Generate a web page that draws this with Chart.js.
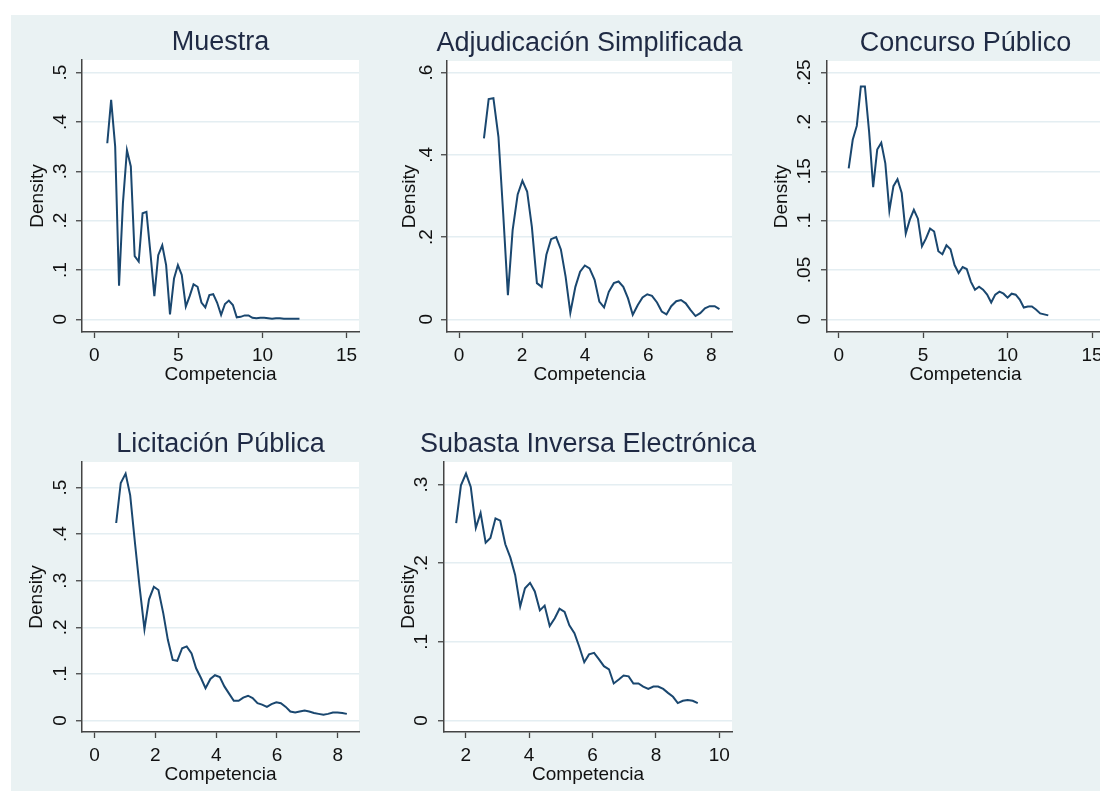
<!DOCTYPE html>
<html>
<head>
<meta charset="utf-8">
<script src="https://cdn.jsdelivr.net/npm/chart.js@4.4.0/dist/chart.umd.min.js"></script>
<style>
    html, body { margin: 0; padding: 0; width: 1100px; height: 791px; overflow: hidden; background: #fff; }
    #fondo { position: absolute; left: 11px; top: 15px; width: 1089px; height: 776px; background: #eaf2f3; overflow: hidden; }
    .panel { position: absolute; overflow: hidden; }
    .panel canvas { position: absolute; left: 0; top: 0; }
</style>
</head>
<body>
<div id="fondo">
    <div class="panel" id="p1"><canvas id="g1"></canvas></div>
    <div class="panel" id="p2"><canvas id="g2"></canvas></div>
    <div class="panel" id="p3"><canvas id="g3"></canvas></div>
    <div class="panel" id="p4"><canvas id="g4"></canvas></div>
    <div class="panel" id="p5"><canvas id="g5"></canvas></div>
</div>
<script>
const titulos = ['Muestra', 'Adjudicación Simplificada', 'Concurso Público', 'Licitación Pública', 'Subasta Inversa Electrónica'];

const muestraX = [0.77, 1.00, 1.24, 1.47, 1.70, 1.94, 2.17, 2.40, 2.64, 2.87, 3.10, 3.34, 3.57, 3.80, 4.04, 4.27, 4.50, 4.74, 4.97, 5.20,
    5.44, 5.67, 5.90, 6.14, 6.37, 6.60, 6.84, 7.07, 7.30, 7.54, 7.77, 8.00, 8.24, 8.47, 8.70, 8.94, 9.17, 9.40, 9.64, 9.87,
    10.10, 10.34, 10.57, 10.80, 11.04, 11.27, 11.50, 11.74, 11.97, 12.20];
const muestraY = [0.357, 0.445, 0.350, 0.068, 0.235, 0.343, 0.310, 0.128, 0.117, 0.215, 0.218, 0.133, 0.047, 0.130, 0.150, 0.110, 0.010, 0.083, 0.110, 0.090,
    0.026, 0.047, 0.071, 0.066, 0.034, 0.024, 0.049, 0.051, 0.034, 0.009, 0.031, 0.038, 0.029, 0.004, 0.005, 0.008, 0.008, 0.003, 0.002, 0.003,
    0.003, 0.002, 0.001, 0.002, 0.002, 0.001, 0.001, 0.001, 0.001, 0.001];

const adjudicacionX = [0.79, 0.94, 1.09, 1.25, 1.40, 1.55, 1.70, 1.86, 2.01, 2.16, 2.31, 2.47, 2.62, 2.77, 2.92, 3.08, 3.23, 3.38, 3.53, 3.69,
    3.84, 3.99, 4.14, 4.30, 4.45, 4.60, 4.75, 4.91, 5.06, 5.21, 5.36, 5.51, 5.67, 5.82, 5.97, 6.12, 6.28, 6.43, 6.58, 6.73,
    6.89, 7.04, 7.19, 7.34, 7.50, 7.65, 7.80, 7.95, 8.11, 8.26];
const adjudicacionY = [0.440, 0.536, 0.538, 0.444, 0.258, 0.059, 0.217, 0.304, 0.337, 0.311, 0.225, 0.088, 0.079, 0.157, 0.195, 0.200, 0.170, 0.104, 0.016, 0.079,
    0.116, 0.131, 0.124, 0.096, 0.043, 0.029, 0.067, 0.088, 0.092, 0.079, 0.051, 0.011, 0.035, 0.053, 0.061, 0.057, 0.041, 0.019, 0.012, 0.032,
    0.044, 0.047, 0.039, 0.023, 0.008, 0.015, 0.027, 0.032, 0.032, 0.025];

const concursoX = [0.59, 0.83, 1.07, 1.31, 1.55, 1.80, 2.04, 2.28, 2.52, 2.76, 3.00, 3.24, 3.48, 3.73, 3.97, 4.21, 4.45, 4.69, 4.93, 5.17,
    5.41, 5.65, 5.90, 6.14, 6.38, 6.62, 6.86, 7.10, 7.34, 7.58, 7.83, 8.07, 8.31, 8.55, 8.79, 9.03, 9.27, 9.52, 9.76, 10.00,
    10.24, 10.48, 10.72, 10.96, 11.20, 11.44, 11.68, 11.93, 12.17, 12.41];
const concursoY = [0.153, 0.182, 0.196, 0.236, 0.236, 0.190, 0.134, 0.172, 0.179, 0.158, 0.110, 0.135, 0.142, 0.128, 0.087, 0.101, 0.111, 0.102, 0.074, 0.082,
    0.092, 0.089, 0.069, 0.066, 0.075, 0.071, 0.055, 0.047, 0.053, 0.051, 0.038, 0.030, 0.033, 0.030, 0.025, 0.017, 0.025, 0.028, 0.026, 0.022,
    0.026, 0.025, 0.020, 0.012, 0.013, 0.013, 0.010, 0.006, 0.005, 0.004];

const licitacionX = [0.71, 0.86, 1.02, 1.17, 1.33, 1.48, 1.64, 1.79, 1.95, 2.10, 2.26, 2.41, 2.57, 2.72, 2.88, 3.03, 3.19, 3.34, 3.50, 3.65,
    3.81, 3.96, 4.12, 4.27, 4.43, 4.58, 4.74, 4.89, 5.05, 5.20, 5.36, 5.51, 5.67, 5.82, 5.98, 6.13, 6.29, 6.44, 6.60, 6.75,
    6.91, 7.06, 7.22, 7.37, 7.53, 7.68, 7.84, 7.99, 8.15, 8.30];
const licitacionY = [0.424, 0.510, 0.530, 0.484, 0.380, 0.287, 0.196, 0.260, 0.287, 0.280, 0.230, 0.173, 0.130, 0.128, 0.155, 0.159, 0.144, 0.112, 0.091, 0.069,
    0.089, 0.097, 0.093, 0.073, 0.057, 0.042, 0.042, 0.049, 0.053, 0.048, 0.037, 0.034, 0.029, 0.035, 0.039, 0.037, 0.029, 0.019, 0.017, 0.019,
    0.021, 0.019, 0.016, 0.014, 0.012, 0.014, 0.017, 0.017, 0.016, 0.014];

const subastaX = [1.70, 1.85, 2.01, 2.16, 2.32, 2.47, 2.63, 2.78, 2.94, 3.09, 3.25, 3.41, 3.56, 3.72, 3.87, 4.03, 4.18, 4.34, 4.49, 4.65,
    4.81, 4.96, 5.12, 5.27, 5.43, 5.58, 5.74, 5.89, 6.05, 6.20, 6.36, 6.52, 6.67, 6.83, 6.98, 7.14, 7.29, 7.45, 7.60, 7.76,
    7.92, 8.07, 8.23, 8.38, 8.54, 8.69, 8.85, 9.00, 9.16, 9.32];
const subastaY = [0.251, 0.299, 0.314, 0.297, 0.245, 0.264, 0.226, 0.232, 0.257, 0.254, 0.224, 0.207, 0.185, 0.145, 0.168, 0.175, 0.164, 0.140, 0.146, 0.120,
    0.130, 0.142, 0.138, 0.121, 0.111, 0.094, 0.074, 0.084, 0.086, 0.078, 0.069, 0.065, 0.047, 0.052, 0.057, 0.056, 0.047, 0.047, 0.043, 0.040,
    0.043, 0.043, 0.040, 0.035, 0.030, 0.022, 0.025, 0.026, 0.025, 0.022];

const ticksX15 = [0, 5, 10, 15];
const ticksX8 = [0, 2, 4, 6, 8];
const ticksX10 = [2, 4, 6, 8, 10];
const ticksY5 = [0, 0.1, 0.2, 0.3, 0.4, 0.5];
const ticksY6 = [0, 0.2, 0.4, 0.6];
const ticksY25 = [0, 0.05, 0.1, 0.15, 0.2, 0.25];
const ticksY3 = [0, 0.1, 0.2, 0.3];

// ancho del eje y, alto del eje x, alto del título
const EJE_Y = 72;
const EJE_X = 56;
const CAB = 37;
// origen del fondo dentro de la página
const FONDO_X = 11;
const FONDO_Y = 15;

const fondoBlanco = {
    id: 'fondoBlanco',
    beforeDraw(chart) {
        const a = chart.chartArea;
        chart.ctx.save();
        chart.ctx.fillStyle = '#ffffff';
        chart.ctx.fillRect(a.left, a.top, a.right - a.left, a.bottom - a.top);
        chart.ctx.restore();
    }
};

window.onload = function () {
    Chart.defaults.font.family = "'Liberation Sans', Arial, sans-serif";
    Chart.defaults.color = '#111';

    crearPanel('p1', 'g1', titulos[0], muestraX, muestraY, ticksX15, ticksY5,
        { left: 82, top: 60, w: 277, h: 272, xMin: -0.733, xMax: 15.74, yMin: -0.0257, yMax: 0.5257, padTitulo: 16, padTicks: 7 });
    crearPanel('p2', 'g2', titulos[1], adjudicacionX, adjudicacionY, ticksX8, ticksY6,
        { left: 447, top: 61, w: 285, h: 271, xMin: -0.382, xMax: 8.658, yMin: -0.0308, yMax: 0.6284, padTitulo: 23, padTicks: 6.4 });
    crearPanel('p3', 'g3', titulos[2], concursoX, concursoY, ticksX15, ticksY25,
        { left: 827, top: 61, w: 277, h: 271, xMin: -0.694, xMax: 15.71, yMin: -0.01284, yMax: 0.2618, padTitulo: 15.6, padTicks: 2.8 });
    crearPanel('p4', 'g4', titulos[3], licitacionX, licitacionY, ticksX8, ticksY5,
        { left: 82, top: 462, w: 277, h: 270, xMin: -0.415, xMax: 8.70, yMin: -0.0249, yMax: 0.555, padTitulo: 15, padTicks: 7 });
    crearPanel('p5', 'g5', titulos[4], subastaX, subastaY, ticksX10, ticksY3,
        { left: 444, top: 462, w: 288, h: 270, xMin: 1.316, xMax: 10.40, yMin: -0.01476, yMax: 0.3287, padTitulo: 25, padTicks: 8 });
};

function crearPanel(divId, id, titulo, xs, ys, ticksX, ticksY, caja) {
    const ancho = caja.w + 2 * EJE_Y;
    const alto = CAB + caja.h + EJE_X;
    const x0 = caja.left - EJE_Y - FONDO_X;
    const y0 = caja.top - CAB - FONDO_Y;

    // el contenedor recorta lo que pasa del borde derecho del fondo
    const div = document.getElementById(divId);
    div.style.left = x0 + 'px';
    div.style.top = y0 + 'px';
    div.style.width = Math.min(ancho, 1089 - x0) + 'px';
    div.style.height = alto + 'px';

    const canvas = document.getElementById(id);
    canvas.width = ancho;
    canvas.height = alto;
    canvas.style.width = ancho + 'px';
    canvas.style.height = alto + 'px';

    new Chart(canvas.getContext('2d'), {
        type: 'line',
        data: {
            datasets: [{
                data: xs.map((x, i) => ({ x: x, y: ys[i] })),
                borderColor: '#1a476f',
                borderWidth: 2,
                pointRadius: 0,
                fill: false,
                tension: 0
            }]
        },
        options: {
            responsive: false,
            animation: false,
            devicePixelRatio: 1,
            layout: { padding: 0 },
            plugins: {
                legend: { display: false },
                tooltip: { enabled: false },
                title: {
                    display: true,
                    text: titulo,
                    fullSize: true,
                    color: '#1f2a44',
                    font: { size: 27, weight: 'normal', lineHeight: 32 / 27 },
                    padding: { top: 4, bottom: 1 }
                }
            },
            scales: {
                x: {
                    type: 'linear',
                    min: caja.xMin,
                    max: caja.xMax,
                    afterBuildTicks: s => { s.ticks = ticksX.map(v => ({ value: v })); },
                    afterFit: s => { s.height = EJE_X; },
                    ticks: { font: { size: 19 }, padding: 6, maxRotation: 0, autoSkip: false },
                    grid: { drawOnChartArea: false, tickLength: 6, tickColor: '#444', tickWidth: 1.3 },
                    border: { display: true, color: '#444', width: 1.5 },
                    title: { display: true, text: 'Competencia', font: { size: 19 }, padding: { top: 0, bottom: 2 } }
                },
                y: {
                    type: 'linear',
                    min: caja.yMin,
                    max: caja.yMax,
                    afterBuildTicks: s => { s.ticks = ticksY.map(v => ({ value: v })); },
                    afterFit: s => { s.width = EJE_Y; },
                    ticks: {
                        font: { size: 19 },
                        padding: caja.padTicks,
                        minRotation: 90,
                        maxRotation: 90,
                        crossAlign: 'center',
                        autoSkip: false,
                        callback: v => v === 0 ? '0' : String(v).replace(/^0\./, '.')
                    },
                    grid: { color: '#e4eef2', lineWidth: 1.5, tickLength: 6, tickColor: '#444', tickWidth: 1.3 },
                    border: { display: true, color: '#444', width: 1.5 },
                    title: { display: true, text: 'Density', font: { size: 19 }, padding: { top: caja.padTitulo, bottom: 0 } }
                },
                derecha: {
                    type: 'linear',
                    axis: 'y',
                    position: 'right',
                    afterFit: s => { s.width = EJE_Y; },
                    ticks: { display: false },
                    grid: { display: false },
                    border: { display: false }
                }
            }
        },
        plugins: [fondoBlanco]
    });
}
</script>
</body>
</html>
